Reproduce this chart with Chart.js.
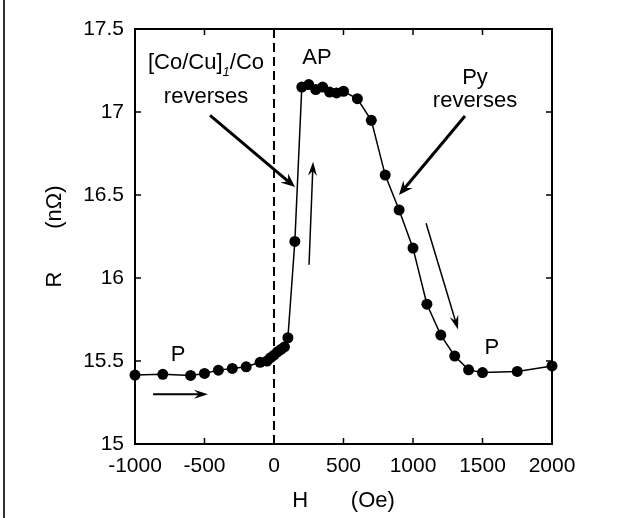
<!DOCTYPE html>
<html lang="en">
<head>
    <meta charset="UTF-8">
    <title>R vs H</title>
    <style>
        body { margin: 0; background: #fff; }
        #wrap { position: relative; width: 624px; height: 518px; }
        #edge { position: absolute; left: 3px; top: 0; width: 2px; height: 518px; background: #333; }
    </style>
</head>
<body>
<div id="wrap">
    <canvas id="rh-chart" width="624" height="518"></canvas>
    <div id="edge"></div>
</div>

<script src="https://cdn.jsdelivr.net/npm/chart.js@4.4.1/dist/chart.umd.min.js"></script>
<script>
    // field sweep (Oe) and resistance (nOhm)
    const fieldOe = [-1000, -800, -600, -500, -400, -300, -200, -100, -50, -25, 0, 25, 50, 75, 100,
        150, 200, 250, 300, 350, 400, 450, 500, 600, 700, 800, 900, 1000, 1100, 1200, 1300, 1400,
        1500, 1750, 2000];
    const resistance = [15.415, 15.42, 15.413, 15.425, 15.445, 15.455, 15.465, 15.492, 15.50, 15.52,
        15.535, 15.555, 15.57, 15.585, 15.64, 16.22, 17.15, 17.165, 17.135, 17.15, 17.12, 17.115,
        17.125, 17.08, 16.95, 16.62, 16.41, 16.18, 15.842, 15.656, 15.53, 15.447, 15.43, 15.437, 15.47];

    const xRange = [-1000, 2000];
    const yRange = [15, 17.5];

    // annotations, in data units
    const arrows = [
        {from: [-460, 16.98], to: [151, 16.548], w: 3},
        {from: [252, 16.08], to: [281, 16.70], w: 1.5},
        {from: [1374, 16.976], to: [899, 16.5], w: 3},
        {from: [1094, 16.33], to: [1324, 15.69], w: 1.5},
        {from: [-870, 15.30], to: [-475, 15.30], w: 2}
    ];
    const labels = [
        {text: 'reverses', at: [-489, 17.09]},
        {text: 'AP', at: [309, 17.325]},
        {text: 'Py', at: [1446, 17.205]},
        {text: 'reverses', at: [1446, 17.066]},
        {text: 'P', at: [-690, 15.536]},
        {text: 'P', at: [1568, 15.578]}
    ];
    const coCuAt = [-489, 17.295];

    const FONT = '"Liberation Sans", Arial, sans-serif';

    function drawArrow(ctx, x1, y1, x2, y2, w) {
        const ang = Math.atan2(y2 - y1, x2 - x1);
        const dx = Math.cos(ang), dy = Math.sin(ang);
        const L = 14, H = w > 2 ? 6 : 4.5;
        ctx.lineWidth = w;
        ctx.beginPath();
        ctx.moveTo(x1, y1);
        ctx.lineTo(x2 - dx * L * 0.6, y2 - dy * L * 0.6);
        ctx.stroke();
        ctx.beginPath();
        ctx.moveTo(x2, y2);
        ctx.lineTo(x2 - dx * L - dy * H, y2 - dy * L + dx * H);
        ctx.lineTo(x2 - dx * L * 0.65, y2 - dy * L * 0.65);
        ctx.lineTo(x2 - dx * L + dy * H, y2 - dy * L - dx * H);
        ctx.closePath();
        ctx.fill();
    }

    const overlay = {
        id: 'overlay',
        beforeDatasetsDraw(chart) {
            const {ctx, chartArea: a, scales: {x, y}} = chart;
            ctx.save();
            ctx.strokeStyle = '#000';
            ctx.lineWidth = 2;
            ctx.strokeRect(a.left, a.top, a.right - a.left, a.bottom - a.top);
            ctx.lineWidth = 1.5;
            ctx.beginPath();
            x.ticks.forEach(t => {
                const px = x.getPixelForValue(t.value);
                ctx.moveTo(px, a.bottom); ctx.lineTo(px, a.bottom - 6);
                ctx.moveTo(px, a.top); ctx.lineTo(px, a.top + 6);
            });
            y.ticks.forEach(t => {
                const py = y.getPixelForValue(t.value);
                ctx.moveTo(a.left, py); ctx.lineTo(a.left + 6, py);
                ctx.moveTo(a.right, py); ctx.lineTo(a.right - 6, py);
            });
            ctx.stroke();
            // dashed line at H = 0
            const z = x.getPixelForValue(0);
            ctx.setLineDash([9, 5]);
            ctx.lineWidth = 2;
            ctx.beginPath();
            ctx.moveTo(z, a.top);
            ctx.lineTo(z, a.bottom);
            ctx.stroke();
            ctx.restore();
        },
        afterDatasetsDraw(chart) {
            const {ctx, scales: {x, y}} = chart;
            ctx.save();
            ctx.strokeStyle = '#000';
            ctx.fillStyle = '#000';
            arrows.forEach(ar => {
                drawArrow(ctx, x.getPixelForValue(ar.from[0]), y.getPixelForValue(ar.from[1]),
                    x.getPixelForValue(ar.to[0]), y.getPixelForValue(ar.to[1]), ar.w);
            });
            ctx.font = '22px ' + FONT;
            ctx.textAlign = 'center';
            ctx.textBaseline = 'middle';
            labels.forEach(l => {
                ctx.fillText(l.text, x.getPixelForValue(l.at[0]), y.getPixelForValue(l.at[1]));
            });
            // [Co/Cu]1/Co with italic subscript
            const p1 = '[Co/Cu]', sub = '1', p2 = '/Co';
            const main = '22px ' + FONT, small = 'italic 13px ' + FONT;
            ctx.font = main;
            const w1 = ctx.measureText(p1).width, w3 = ctx.measureText(p2).width;
            ctx.font = small;
            const w2 = ctx.measureText(sub).width;
            let cx = x.getPixelForValue(coCuAt[0]) - (w1 + w2 + w3) / 2;
            const cy = y.getPixelForValue(coCuAt[1]);
            ctx.textAlign = 'left';
            ctx.font = main;
            ctx.fillText(p1, cx, cy);
            cx += w1;
            ctx.font = small;
            ctx.fillText(sub, cx, cy + 9);
            cx += w2;
            ctx.font = main;
            ctx.fillText(p2, cx, cy);
            ctx.restore();
        }
    };

    const points = fieldOe.map((h, i) => ({x: h, y: resistance[i]}));

    new Chart(document.getElementById('rh-chart'), {
        type: 'scatter',
        data: {
            datasets: [{
                data: points,
                showLine: true,
                borderColor: '#000',
                borderWidth: 1.5,
                backgroundColor: '#000',
                pointRadius: 5.5,
                pointBorderWidth: 0,
                clip: false
            }]
        },
        options: {
            responsive: false,
            animation: false,
            layout: {padding: {left: 0, right: 72, top: 29, bottom: 0}},
            plugins: {legend: {display: false}, tooltip: {enabled: false}},
            scales: {
                x: {
                    type: 'linear',
                    min: xRange[0], max: xRange[1],
                    grid: {display: false, drawTicks: false},
                    border: {display: false},
                    ticks: {
                        stepSize: 500, color: '#000', padding: 10,
                        font: {family: FONT, size: 21},
                        maxRotation: 0,
                        callback: v => String(v)
                    },
                    title: {
                        display: true, text: 'H       (Oe)', color: '#000',
                        font: {family: FONT, size: 22}, padding: {top: 18}
                    },
                    afterFit: s => { s.height = 74; }
                },
                y: {
                    type: 'linear',
                    min: yRange[0], max: yRange[1],
                    grid: {display: false, drawTicks: false},
                    border: {display: false},
                    ticks: {
                        stepSize: 0.5, color: '#000', padding: 11,
                        font: {family: FONT, size: 21},
                        callback: v => String(v)
                    },
                    title: {
                        display: true, text: 'R       (nΩ)', color: '#000',
                        font: {family: FONT, size: 22}, padding: {top: 42}
                    },
                    afterFit: s => { s.width = 135; }
                }
            }
        },
        plugins: [overlay]
    });
</script>
</body>
</html>
